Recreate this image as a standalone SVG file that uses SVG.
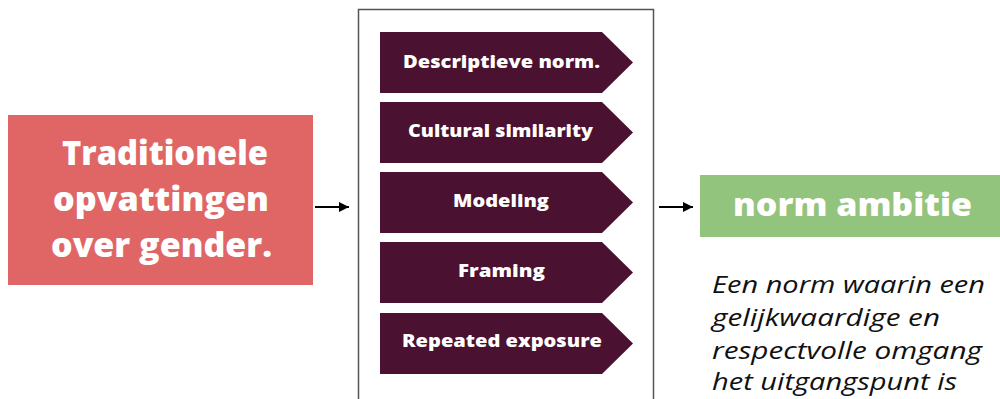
<svg xmlns="http://www.w3.org/2000/svg" width="1000" height="399" viewBox="0 0 1000 399">
<defs>
<style>
.bg{fill:#ffffff}
.red{fill:#E06666}
.green{fill:#93C47D}
.step{fill:#4A1130}
.big{font-family:"Open Sans","Liberation Sans",sans-serif;font-weight:800;fill:#ffffff;text-anchor:middle}
.stxt{font-family:"Open Sans","Liberation Sans",sans-serif;font-weight:800;font-size:17.5px;fill:#ffffff;text-anchor:middle}
.desc{font-family:"Open Sans","Liberation Sans",sans-serif;font-style:italic;font-size:23px;fill:#111111}
.conn{stroke:#000000;stroke-width:2;fill:none}
</style>
<marker id="ah" viewBox="0 0 10 10" refX="10" refY="5" markerWidth="5" markerHeight="5" orient="auto" markerUnits="strokeWidth">
<path d="M0,0 L10,5 L0,10 z" fill="#000000"/>
</marker>
</defs>
<rect class="bg" x="0" y="0" width="1000" height="399"/>
<g id="source">
<rect class="red" x="8" y="115" width="305" height="170"/>
<text class="big" font-size="33" x="165" y="165" textLength="206" lengthAdjust="spacingAndGlyphs">Traditionele</text>
<text class="big" font-size="33" x="161" y="211" textLength="216" lengthAdjust="spacingAndGlyphs">opvattingen</text>
<text class="big" font-size="33" x="161.5" y="257" textLength="221" lengthAdjust="spacingAndGlyphs">over gender.</text>
</g>
<g id="mechanisms">
<rect x="358.5" y="9.5" width="295" height="400" fill="none" stroke="#555555" stroke-width="1.5"/>
<g id="step1"><path class="step" d="M380,32 H602 L633,62.5 L602,93 H380 Z"/><text class="stxt" x="501.5" y="68" textLength="197" lengthAdjust="spacingAndGlyphs">Descriptieve norm.</text></g>
<g id="step2"><path class="step" d="M380,102 H602 L633,132.5 L602,163 H380 Z"/><text class="stxt" x="500.5" y="137" textLength="185" lengthAdjust="spacingAndGlyphs">Cultural similarity</text></g>
<g id="step3"><path class="step" d="M380,172 H602 L633,202.5 L602,233 H380 Z"/><text class="stxt" x="501" y="207" textLength="96" lengthAdjust="spacingAndGlyphs">Modeling</text></g>
<g id="step4"><path class="step" d="M380,242 H602 L633,272.5 L602,303 H380 Z"/><text class="stxt" x="501.5" y="277" textLength="87" lengthAdjust="spacingAndGlyphs">Framing</text></g>
<g id="step5"><path class="step" d="M380,313 H602 L633,343.5 L602,374 H380 Z"/><text class="stxt" x="502" y="347" textLength="200" lengthAdjust="spacingAndGlyphs">Repeated exposure</text></g>
</g>
<g id="target">
<rect class="green" x="700" y="175" width="300" height="62"/>
<text class="big" font-size="31" x="852.5" y="216" textLength="239" lengthAdjust="spacingAndGlyphs">norm ambitie</text>
</g>
<g id="description">
<text class="desc" x="712" y="293" textLength="273" lengthAdjust="spacingAndGlyphs">Een norm waarin een</text>
<text class="desc" x="712" y="326" textLength="228" lengthAdjust="spacingAndGlyphs">gelijkwaardige en</text>
<text class="desc" x="712" y="359" textLength="270" lengthAdjust="spacingAndGlyphs">respectvolle omgang</text>
<text class="desc" x="712" y="390" textLength="245" lengthAdjust="spacingAndGlyphs">het uitgangspunt is</text>
</g>
<g id="connectors">
<line class="conn" x1="315" y1="207" x2="349" y2="207" marker-end="url(#ah)"/>
<line class="conn" x1="659" y1="207" x2="693" y2="207" marker-end="url(#ah)"/>
</g>
</svg>
